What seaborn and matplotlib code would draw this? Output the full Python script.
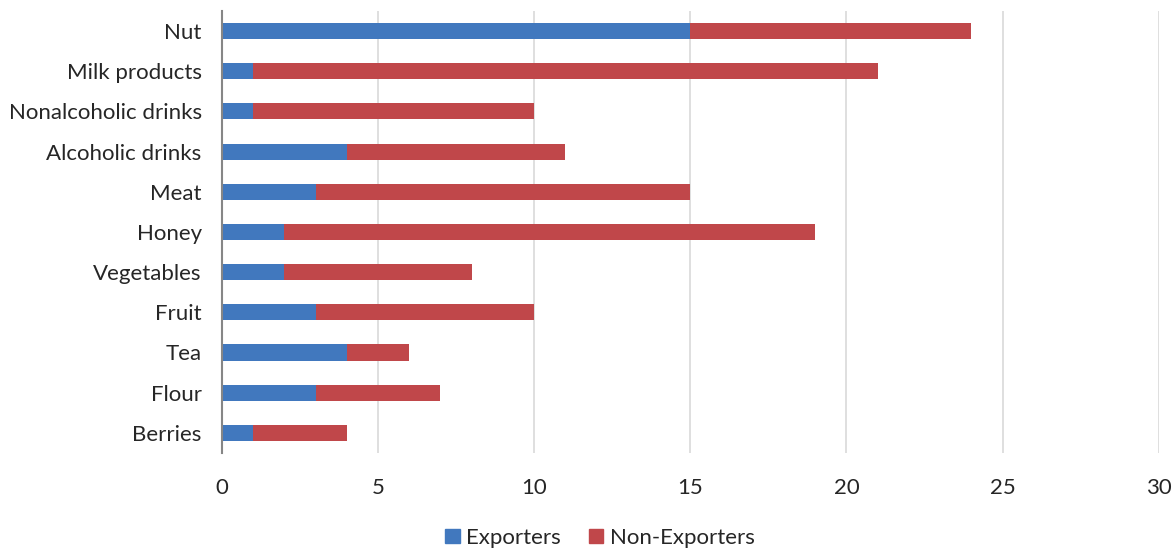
import matplotlib
matplotlib.use("Agg")
import matplotlib.pyplot as plt
from matplotlib.patches import Patch
import seaborn as sns
import pandas as pd

categories = ["Nut", "Milk products", "Nonalcoholic drinks", "Alcoholic drinks",
              "Meat", "Honey", "Vegetables", "Fruit", "Tea", "Flour", "Berries"]
exporters = [15, 1, 1, 4, 3, 2, 2, 3, 4, 3, 1]
non_exporters = [9, 20, 9, 7, 12, 17, 6, 7, 2, 4, 3]

blue = "#4178BE"
red = "#C0474A"

df = pd.DataFrame({
    "category": categories,
    "Exporters": exporters,
    "Non-Exporters": non_exporters,
})
df["total"] = df["Exporters"] + df["Non-Exporters"]

sns.set_theme(style="white")
plt.rcParams["font.family"] = ["Lato", "DejaVu Sans"]

fig = plt.figure(figsize=(11.74, 5.51), dpi=100)
ax = fig.add_axes([0.189, 0.178, 0.798, 0.802])

# stacked bars: full total in red, exporters drawn on top in blue
sns.barplot(data=df, y="category", x="total", color=red, saturation=1,
            width=0.4, linewidth=0, ax=ax, order=categories)
sns.barplot(data=df, y="category", x="Exporters", color=blue, saturation=1,
            width=0.4, linewidth=0, ax=ax, order=categories)

ax.set_xlim(0, 30)
ax.set_ylim(len(categories) - 0.5, -0.5)
ax.set_xticks(range(0, 31, 5))
ax.set_xlabel("")
ax.set_ylabel("")

ax.grid(axis="x", color="#D9D9D9", linewidth=1.2)
ax.set_axisbelow(True)
for s in ["top", "right", "bottom"]:
    ax.spines[s].set_visible(False)
ax.spines["left"].set_color("#868686")
ax.spines["left"].set_linewidth(1.5)

ax.tick_params(axis="x", length=0, labelsize=16, colors="#262626", pad=18)
ax.tick_params(axis="y", which="major", length=5, width=1.5, color="#868686",
               direction="inout", labelsize=16, labelcolor="#262626", pad=12)
ax.set_yticks([i - 0.5 for i in range(len(categories) + 1)], minor=True)
ax.tick_params(axis="y", which="minor", length=14, width=1.5, color="#868686",
               direction="inout")

handles = [Patch(color=blue, label="Exporters"), Patch(color=red, label="Non-Exporters")]
fig.legend(handles=handles, loc="center", bbox_to_anchor=(0.511, 0.024), ncol=2,
           frameon=False, fontsize=16, handlelength=0.65, handleheight=0.65,
           handletextpad=0.3, columnspacing=1.25, labelcolor="#262626")

fig.savefig("out.png", dpi=100)
